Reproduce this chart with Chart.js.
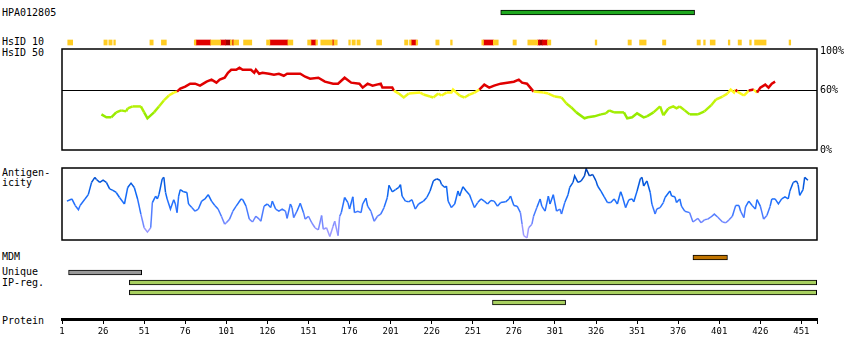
<!DOCTYPE html>
<html>
<head>
<meta charset="utf-8">
<script src="https://cdn.jsdelivr.net/npm/chart.js@4.4.1/dist/chart.umd.min.js"></script>
<style>
body { margin: 0; background: #fff; }
#wrap { position: relative; width: 850px; height: 360px; overflow: hidden; font: 10px "DejaVu Sans Mono", monospace; color: #000; }
#wrap canvas { position: absolute; left: 0; }
.lbl { position: absolute; left: 2px; line-height: 12px; white-space: pre; }
</style>
</head>
<body>
<div id="wrap">
  <div class="lbl" style="top:7px">HPA012805</div>
  <div class="lbl" style="top:36px">HsID 10</div>
  <div class="lbl" style="top:47px">HsID 50</div>
  <div class="lbl" style="top:167px">Antigen-</div>
  <div class="lbl" style="top:177px">icity</div>
  <div class="lbl" style="top:251px">MDM</div>
  <div class="lbl" style="top:266px">Unique</div>
  <div class="lbl" style="top:277px">IP-reg.</div>
  <div class="lbl" style="top:315px">Protein</div>

  <canvas id="antigenChart" width="850" height="15" style="top:5px"></canvas>
  <canvas id="hsid10Chart" width="850" height="9" style="top:38px"></canvas>
  <canvas id="hsid50Chart" width="850" height="120" style="top:40px"></canvas>
  <canvas id="antiChart" width="850" height="85" style="top:160px"></canvas>
  <canvas id="mdmChart" width="850" height="15" style="top:250px"></canvas>
  <canvas id="trackChart" width="850" height="41" style="top:267px"></canvas>
  <canvas id="axisChart" width="850" height="50" style="top:300px"></canvas>
</div>
<script>
const MONO = '"DejaVu Sans Mono", monospace';
Chart.defaults.font.family = MONO;
Chart.defaults.font.size = 10;
Chart.defaults.color = '#000';

// sequence range and axis ticks
const seqStart = 1;
const seqEnd = 460.5;
const tickLabels = [1, 26, 51, 76, 101, 126, 151, 176, 201, 226, 251, 276, 301, 326, 351, 376, 401, 426, 451];

// feature ranges (residues)
const antigenRange = [268, 386];
const mdmRange = [385, 406];
const uniqueRange = [5, 49.5];
const ipRegRanges = [[42, 460.3], [42, 460.3], [263, 307.5]];

// HsID 10 blocks
const hsid10Yellow = [[4.5,7.5],[26.5,28.5],[29.5,31.5],[32.5,33.5],[54.5,56.5],[61.5,64.5],[81.5,82.5],[91.5,97.5],
  [103.5,104.5],[105.5,108.5],[111.5,116.5],[125.5,127.5],[138.5,141.5],[150.5,152.5],[155.5,156.5],[158.5,165.5],
  [166.5,168.5],[175.5,176.5],[177.5,179.5],[180.5,182.5],[192.5,195.5],[209.5,211.5],[212.5,213.5],[216.5,217.5],
  [228.5,230.5],[237.5,238.5],[256.5,257.5],[263.5,266.5],[275.5,277.5],[284.5,290.5],[296.5,298.5],[325.5,326.5],
  [345.5,347.5],[352.5,356.5],[366.5,368.5],[387.5,389.5],[391.5,392.5],[395.5,398.5],[406.5,407.5],[412.5,414.5],
  [419.5,420.5],[422.5,429.5],[443.5,444.5]];
const hsid10Red = [[82.5,91.5],[97.5,100.5],[104.5,105.5],[127.5,138.5],[152.5,155.5],[165.5,166.5],[213.5,216.5],
  [257.5,263.5],[290.5,291.5],[293.5,296.5]];
const hsid10DarkRed = [[100.5,103.5],[291.5,293.5]];

// HsID 50 (%)
const hsidPos = [25,28,31,34,37,40,41,44,49,51,53,57,60,63,66,69,71,73,76,79,82,85,87,89,92,95,97,100,102,104,107,109,111,116,118,119,121,123,127,130,133,136,138,143,146,149,152,157,161,166,169,173,177,182,184,187,190,195,196,202,203,206,209,212,219,221,225,227,230,232,235,238,239,241,243,246,249,252,255,258,261,264,268,272,276,279,281,284,286,288,294,297,301,305,308,311,314,319,321,325,329,332,334,337,343,345,348,351,355,357,361,365,367,370,373,375,377,380,383,388,392,396,399,403,406,408,410,411,412,416,419,422,424,426,429,431,433,435];
const hsidVal = [36,33,33,38,40,39,42,44,44,38,32,38,44,50,55,58,59,62,64,67,67,65,67,69,71,68,71,73,78,81,81,83,81,81,78,81,77,78,77,76,77,75,77,77,77,74,72,73,69,67,67,73,68,67,63,67,65,67,63,63,60,57,53,57,58,56,54,53,57,55,58,58,61,58,55,53,56,58,61,66,63,65,67,68,69,71,68,67,63,59,58,57,54,53,47,43,38,32,33,34,36,37,40,38,38,32,33,37,33,34,38,44,35,42,44,42,44,40,36,36,39,45,51,54,57,61,58,61,59,55,60,61,58,63,66,63,67,69];

// Antigenicity
const antiPos = [4,7,9,11,12,15,17,19,21,22,24,26,28,30,32,34,36,39,41,43,45,47,49,51,53,55,56,58,59,60,62,63,64,65,67,69,70,71,72,73,75,77,78,80,82,84,86,88,90,92,94,96,98,100,101,103,105,107,110,111,113,115,117,119,121,122,124,126,128,129,131,133,135,137,138,140,141,142,144,146,148,149,151,153,155,157,159,160,162,164,166,167,169,170,171,173,175,176,178,179,181,183,184,186,187,189,191,193,195,197,199,200,202,204,206,207,208,210,212,214,216,218,221,223,225,227,229,231,232,234,235,236,238,240,242,243,245,247,249,250,252,254,256,258,260,262,264,266,268,271,273,274,276,278,280,281,282,284,285,287,288,290,292,293,295,297,298,300,302,304,305,307,309,310,312,313,315,317,319,320,322,324,326,327,329,331,333,335,337,339,341,342,344,346,348,349,351,353,354,355,357,359,360,362,363,365,367,368,371,372,374,375,377,378,380,383,385,388,390,392,394,396,398,400,403,405,407,409,411,413,414,416,417,419,421,423,424,426,428,430,432,433,435,437,439,441,443,444,446,448,449,450,452,453,455];
const antiVal = [54,57,48,42,48,57,63,80,87,84,80,83,80,71,69,66,59,50,73,79,73,57,36,17,11,17,52,61,57,63,85,87,66,57,43,56,50,38,61,70,67,66,50,45,40,43,54,57,63,54,48,43,33,22,24,29,40,47,57,56,47,29,25,33,29,26,47,50,45,54,43,40,43,40,30,50,45,31,40,51,38,29,33,24,17,14,34,15,17,5,19,26,6,33,38,59,52,43,60,38,40,38,50,58,47,40,26,33,36,45,59,76,67,70,73,77,61,54,53,56,43,50,54,59,68,82,85,83,77,73,75,54,45,50,68,61,74,68,63,57,45,52,57,54,50,55,54,47,52,53,57,61,48,47,38,22,6,3,17,22,33,45,57,47,40,61,50,63,40,43,36,52,63,73,80,89,80,82,89,99,89,91,82,75,68,60,52,52,57,50,67,61,45,56,57,53,68,85,87,75,82,66,50,36,43,45,52,59,68,61,60,52,57,47,40,38,25,30,24,28,29,32,36,32,25,24,28,33,48,48,40,31,46,54,48,43,56,47,29,34,47,57,57,50,57,60,57,68,80,82,77,62,70,87,83];

function mix(stops, v) {
  if (v <= stops[0][0]) return stops[0][1];
  for (let i = 1; i < stops.length; i++) {
    if (v <= stops[i][0]) {
      const t = (v - stops[i-1][0]) / (stops[i][0] - stops[i-1][0]);
      return stops[i-1][1].map((c, k) => Math.round(c + (stops[i][1][k] - c) * t));
    }
  }
  return stops[stops.length - 1][1];
}
const hsidStops = [[35, [150, 235, 0]], [50, [200, 245, 10]], [58, [255, 250, 30]]];
const antiStops = [[0, [170, 160, 255]], [15, [150, 150, 255]], [30, [100, 130, 255]], [45, [45, 115, 255]], [65, [15, 105, 245]], [85, [0, 80, 210]], [100, [0, 60, 170]]];

function hsidColor(v) {
  if (v >= 60) return '#e00000';
  const c = mix(hsidStops, v);
  return `rgb(${c[0]},${c[1]},${c[2]})`;
}
function antiColor(v) {
  const c = mix(antiStops, v);
  return `rgb(${c[0]},${c[1]},${c[2]})`;
}

const framePlugin = {
  id: 'frame',
  afterDatasetsDraw(chart) {
    const a = chart.chartArea, c = chart.ctx;
    c.save();
    c.strokeStyle = '#000';
    c.lineWidth = 1.5;
    c.strokeRect(a.left, a.top, a.right - a.left, a.bottom - a.top);
    c.restore();
  }
};

const common = {
  responsive: false,
  animation: false,
  events: [],
  plugins: { legend: { display: false }, tooltip: { enabled: false } }
};

function hiddenX() {
  return { type: 'linear', min: seqStart, max: seqEnd, display: false };
}

function barChart(id, rows, datasets, padding) {
  return new Chart(document.getElementById(id), {
    type: 'bar',
    data: { labels: rows, datasets: datasets },
    options: Object.assign({}, common, {
      indexAxis: 'y',
      layout: { padding: Object.assign({ left: 62, right: 33, top: 0, bottom: 0 }, padding || {}) },
      scales: { x: hiddenX(), y: { type: 'category', display: false } }
    })
  });
}

function bars(row, ranges, fill, border) {
  return {
    data: ranges.map(r => ({ y: row, x: r })),
    backgroundColor: fill,
    borderColor: border || fill,
    borderWidth: border ? 1 : 0,
    borderSkipped: false,
    barThickness: 5,
    grouped: false
  };
}

// antigen
barChart('antigenChart', ['Antigen'], [bars('Antigen', [antigenRange], '#1ea81e', '#000')]);

// HsID 10
barChart('hsid10Chart', ['HsID 10'], [
  bars('HsID 10', hsid10Yellow, '#ffcc22'),
  bars('HsID 10', hsid10Red, '#e00000'),
  bars('HsID 10', hsid10DarkRed, '#a00000')
]);

// HsID 50
new Chart(document.getElementById('hsid50Chart'), {
  type: 'line',
  data: {
    datasets: [{
      data: hsidPos.map((p, i) => ({ x: p, y: hsidVal[i] })),
      borderWidth: 2.5,
      pointRadius: 0,
      tension: 0,
      segment: { borderColor: ctx => hsidColor((ctx.p0.parsed.y + ctx.p1.parsed.y) / 2) }
    }]
  },
  options: Object.assign({}, common, {
    layout: { padding: { left: 62, right: 0, top: 8, bottom: 10 } },
    scales: {
      x: hiddenX(),
      y: {
        type: 'linear', position: 'right', min: 0, max: 102,
        afterBuildTicks: s => { s.ticks = [0, 60, 100].map(v => ({ value: v })); },
        afterFit: s => { s.width = 33; },
        border: { display: false },
        grid: { drawTicks: false, color: ctx => ctx.tick && ctx.tick.value === 60 ? '#000' : 'rgba(0,0,0,0)', lineWidth: 1 },
        ticks: { callback: v => v + '%', padding: 3, color: '#000', font: { size: 10 } }
      }
    }
  }),
  plugins: [framePlugin]
});

// Antigenicity
new Chart(document.getElementById('antiChart'), {
  type: 'line',
  data: {
    datasets: [{
      data: antiPos.map((p, i) => ({ x: p, y: antiVal[i] })),
      borderWidth: 1.5,
      pointRadius: 0,
      tension: 0,
      segment: { borderColor: ctx => antiColor((ctx.p0.parsed.y + ctx.p1.parsed.y) / 2) }
    }]
  },
  options: Object.assign({}, common, {
    layout: { padding: { left: 62, right: 33, top: 8, bottom: 5 } },
    scales: { x: hiddenX(), y: { type: 'linear', min: 0, max: 100, display: false } }
  }),
  plugins: [framePlugin]
});

// MDM
barChart('mdmChart', ['MDM'], [bars('MDM', [mdmRange], '#c07400', '#000')]);

// Unique + IP-reg tracks
barChart('trackChart', ['Unique', 'IP1', 'IP2', 'IP3'], [
  bars('Unique', [uniqueRange], '#999999', '#000'),
  Object.assign(bars('IP1', [], '#a8d060', '#000'), {
    data: ipRegRanges.map((r, i) => ({ y: 'IP' + (i + 1), x: r }))
  })
], { top: 0.5, bottom: 0.5 });

// Protein axis
new Chart(document.getElementById('axisChart'), {
  type: 'line',
  data: { datasets: [] },
  options: Object.assign({}, common, {
    layout: { padding: { left: 62, right: 33, top: 0, bottom: 0 } },
    scales: {
      x: {
        type: 'linear', position: 'bottom', min: seqStart, max: seqEnd,
        afterBuildTicks: s => { s.ticks = tickLabels.concat([seqEnd]).map(v => ({ value: v })); },
        afterFit: s => { s.height = 31; },
        border: { display: true, width: 3, color: '#000' },
        grid: { drawOnChartArea: false, drawTicks: true, tickLength: 5, color: '#000', lineWidth: 1 },
        ticks: {
          autoSkip: false, maxRotation: 0, padding: 2, color: '#000', font: { size: 9 },
          callback: v => tickLabels.includes(v) ? String(v) : ''
        }
      },
      y: { display: false }
    }
  })
});
</script>
</body>
</html>
